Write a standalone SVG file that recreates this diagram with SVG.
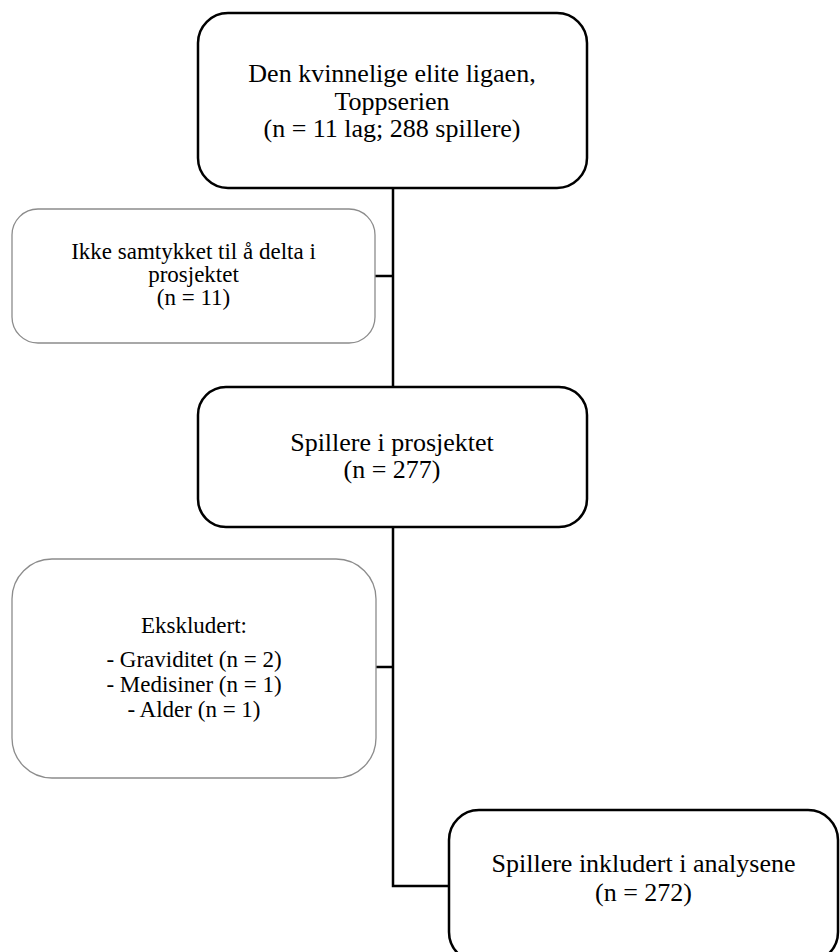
<svg xmlns="http://www.w3.org/2000/svg" width="840" height="952" viewBox="0 0 840 952">
<style>
.main{fill:#fff;stroke:#000;stroke-width:2.5}
.side{fill:#fff;stroke:#8c8c8c;stroke-width:1.3}
.conn{fill:none;stroke:#000;stroke-width:2.5}
.t{font-family:'Liberation Serif','Times New Roman','DejaVu Serif',serif;fill:#000;text-anchor:middle}
.big{font-size:26px}
.small{font-size:23px}
</style>
<rect width="840" height="952" fill="#fff"/>
<g id="connectors">
<path class="conn" d="M393,188 V387"/>
<path class="conn" d="M375,276 H393"/>
<path class="conn" d="M393,527 V886 H449"/>
<path class="conn" d="M376,667 H393"/>
</g>
<g id="n1">
<rect class="main" x="198" y="13" width="389" height="175" rx="30"/>
<text class="t big" font-family="Liberation Serif, serif" x="392" y="82">Den kvinnelige elite ligaen,</text>
<text class="t big" font-family="Liberation Serif, serif" x="392" y="110">Toppserien</text>
<text class="t big" font-family="Liberation Serif, serif" x="392" y="137">(n = 11 lag; 288 spillere)</text>
</g>
<g id="n2">
<rect class="side" x="12" y="209" width="363" height="134" rx="26"/>
<text class="t small" font-family="Liberation Serif, serif" x="193.5" y="259">Ikke samtykket til å delta i</text>
<text class="t small" font-family="Liberation Serif, serif" x="193.5" y="282">prosjektet</text>
<text class="t small" font-family="Liberation Serif, serif" x="193.5" y="305">(n = 11)</text>
</g>
<g id="n3">
<rect class="main" x="198" y="387" width="389" height="140" rx="28"/>
<text class="t big" font-family="Liberation Serif, serif" x="392" y="451">Spillere i prosjektet</text>
<text class="t big" font-family="Liberation Serif, serif" x="392" y="478">(n = 277)</text>
</g>
<g id="n4">
<rect class="side" x="12" y="559" width="364" height="219" rx="40"/>
<text class="t small" font-family="Liberation Serif, serif" x="194" y="633">Ekskludert:</text>
<text class="t small" font-family="Liberation Serif, serif" x="194" y="667">- Graviditet (n = 2)</text>
<text class="t small" font-family="Liberation Serif, serif" x="194" y="692">- Medisiner (n = 1)</text>
<text class="t small" font-family="Liberation Serif, serif" x="194" y="717">- Alder (n = 1)</text>
</g>
<g id="n5">
<rect class="main" x="449" y="810" width="389" height="152" rx="30"/>
<text class="t big" font-family="Liberation Serif, serif" x="643.5" y="872">Spillere inkludert i analysene</text>
<text class="t big" font-family="Liberation Serif, serif" x="643.5" y="901">(n = 272)</text>
</g>
</svg>
